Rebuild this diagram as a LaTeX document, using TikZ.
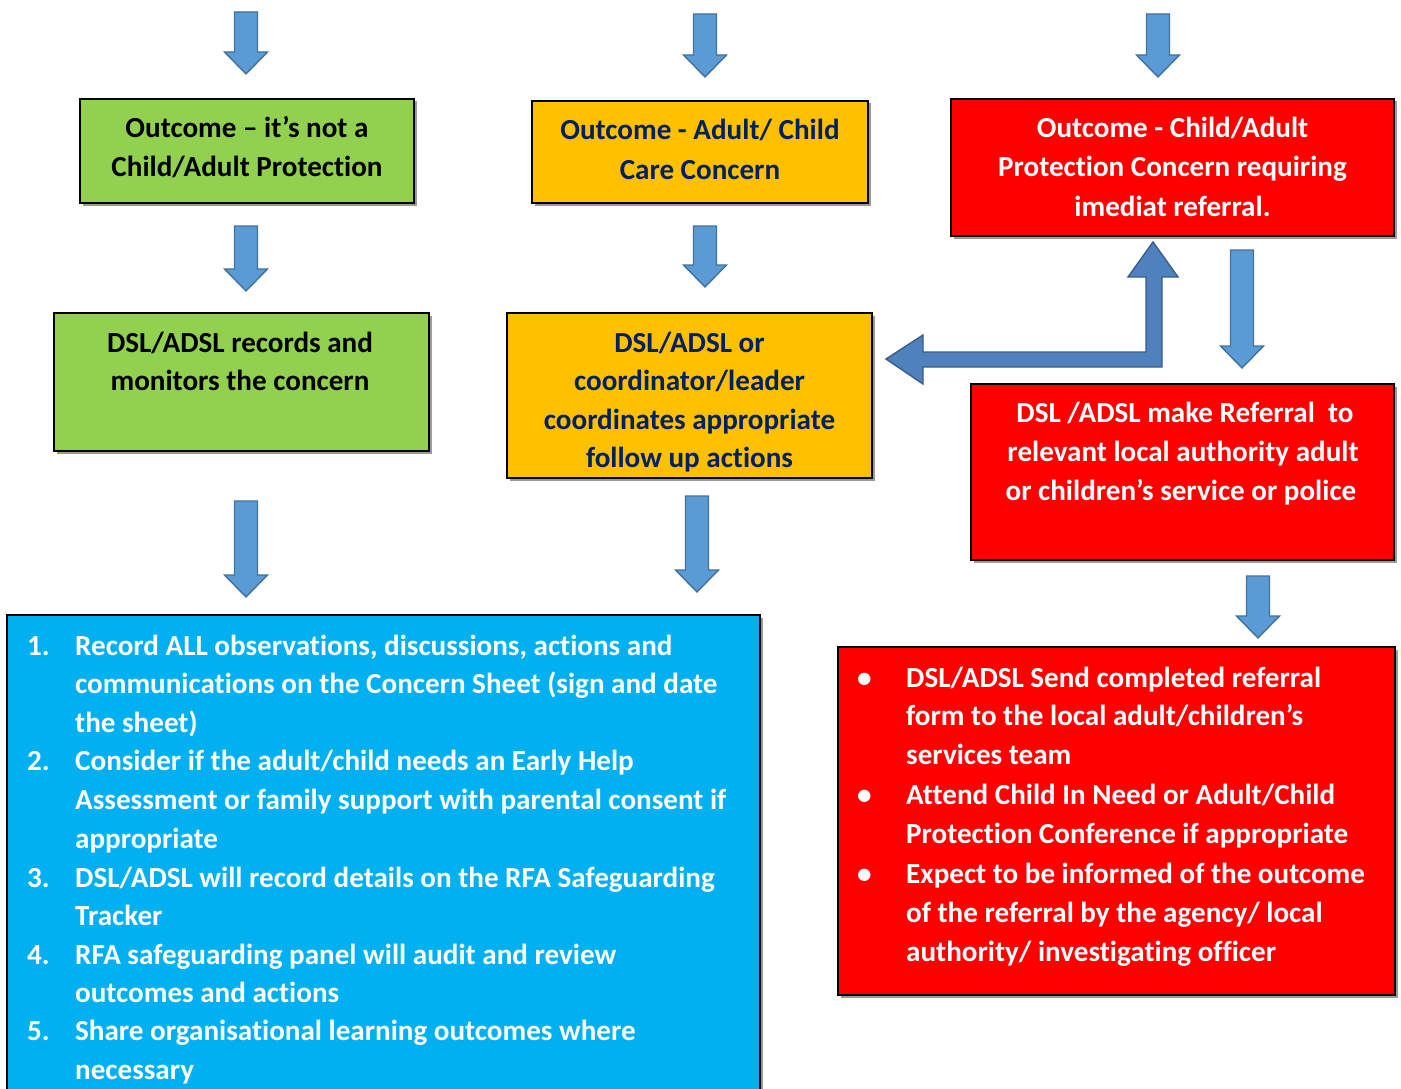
\documentclass[tikz,border=0pt]{standalone}
\usepackage{fontspec}
\setmainfont{Carlito}[Ligatures={NoCommon}]
\begin{document}
\begin{tikzpicture}[x=1pt,y=-1pt,
  box/.style={draw=black,line width=1.6pt,inner sep=0pt},
  tx/.style={inner sep=0pt,anchor=base,font=\fontsize{29.1}{38.5}\selectfont\bfseries},
  txl/.style={inner sep=0pt,anchor=base west,font=\fontsize{29.1}{38.5}\selectfont\bfseries},
  dnarr/.style={fill=arrblue,draw=arrdark,line width=1.4pt,line join=miter},
  bentarr/.style={fill=bentblue,draw=bentdark,line width=1.4pt,line join=miter}]
\definecolor{gfill}{HTML}{92D050}
\definecolor{yfill}{HTML}{FFC000}
\definecolor{rfill}{HTML}{FF0000}
\definecolor{bfill}{HTML}{00B0F0}
\definecolor{navy}{HTML}{002060}
\definecolor{arrblue}{HTML}{5B9BD5}
\definecolor{arrdark}{HTML}{41719C}
\definecolor{bentblue}{HTML}{4F81BD}
\definecolor{bentdark}{HTML}{385D8A}
\definecolor{shad}{HTML}{9A9A9A}
\useasboundingbox (0,0) rectangle (1401,1089);
\fill[white] (0,0) rectangle (1401,1089);

% down arrow macro: cx, ytop, ybot
\newcommand\dnarrowblk[3]{%
  \draw[dnarr] ({#1-11.5},#2) -- ({#1+11.5},#2) -- ({#1+11.5},{#3-22}) -- ({#1+21.5},{#3-22})
    -- (#1,#3) -- ({#1-21.5},{#3-22}) -- ({#1-11.5},{#3-22}) -- cycle;}

% boxes: shadows then boxes
\fill[shad] (82.5,101.5) rectangle (416.5,205.5);
\node[box,fill=gfill,minimum width=334pt,minimum height=104pt] (g1) at (247,151) {};
\fill[shad] (534.5,103.5) rectangle (870.5,205.5);
\node[box,fill=yfill,minimum width=336pt,minimum height=102pt] (y1) at (700,152) {};
\fill[shad] (953.5,101.5) rectangle (1396.5,238.5);
\node[box,fill=rfill,minimum width=443pt,minimum height=137pt] (r1) at (1172.5,167.5) {};
\fill[shad] (56.5,315.5) rectangle (431.5,453.5);
\node[box,fill=gfill,minimum width=375pt,minimum height=138pt] (g2) at (241.5,382) {};
\fill[shad] (509.5,315.5) rectangle (874.5,480.5);
\node[box,fill=yfill,minimum width=365pt,minimum height=165pt] (y2) at (689.5,395.5) {};
\fill[shad] (973.5,386.5) rectangle (1396.5,562.5);
\node[box,fill=rfill,minimum width=423pt,minimum height=176pt] (r2) at (1182.5,472) {};
\fill[shad] (840.5,649.5) rectangle (1397.5,997.5);
\node[box,fill=rfill,minimum width=557pt,minimum height=348pt] (r3) at (1116.5,821) {};
\fill[shad] (9.5,617.5) rectangle (762.5,1100);
\node[box,fill=bfill,minimum width=753pt,minimum height=485pt] (bl) at (383.5,857.5) {};

% arrows
\dnarrowblk{246}{12}{74}
\dnarrowblk{705}{14}{77}
\dnarrowblk{1158}{14}{77}
\dnarrowblk{246}{226}{291}
\dnarrowblk{705}{226}{287}
\dnarrowblk{1242}{250}{368}
\dnarrowblk{246}{501}{597}
\dnarrowblk{697}{496}{592}
\dnarrowblk{1258}{576}{638}
\draw[bentarr] (886,359) -- (923,335) -- (923,352) -- (1146,352) -- (1146,277) -- (1128,277)
  -- (1153,242) -- (1178,277) -- (1162,277) -- (1162,367) -- (923,367) -- (923,384) -- cycle;

% texts
\node[tx,text=black] (g1a) at (247,138) {Outcome – it’s not a};
\node[tx,text=black] (g1b) at (247,177) {Child/Adult Protection};
\node[tx,text=navy] (y1a) at (700,140) {Outcome - Adult/ Child};
\node[tx,text=navy] (y1b) at (700,179) {Care Concern};
\node[tx,text=white] (r1a) at (1172.5,138) {Outcome - Child/Adult};
\node[tx,text=white] (r1b) at (1172.5,177) {Protection Concern requiring};
\node[tx,text=white] (r1c) at (1172.5,216) {imediat referral.};
\node[tx,text=black] (g2a) at (240,352) {DSL/ADSL records and};
\node[tx,text=black] (g2b) at (240,390) {monitors the concern};
\node[tx,text=navy] (y2a) at (689.5,352) {DSL/ADSL or};
\node[tx,text=navy] (y2b) at (689.5,390) {coordinator/leader};
\node[tx,text=navy] (y2c) at (689.5,429) {coordinates appropriate};
\node[tx,text=navy] (y2d) at (689.5,467) {follow up actions};
\node[tx,text=white] (r2a) at (1185,422) {DSL /ADSL make Referral\ \ to};
\node[tx,text=white] (r2b) at (1183,461) {relevant local authority adult};
\node[tx,text=white] (r2c) at (1181,500) {or children’s service or police};

% blue list
\begin{scope}[every node/.style={txl,text=white}]
\node (n1) at (27,655) {1.};
\node (b1a) at (75,655) {Record ALL observations, discussions, actions and};
\node (b1b) at (75,693.5) {communications on the Concern Sheet (sign and date};
\node (b1c) at (75,732) {the sheet)};
\node (n2) at (27,770) {2.};
\node (b2a) at (75,770) {Consider if the adult/child needs an Early Help};
\node (b2b) at (75,809) {Assessment or family support with parental consent if};
\node (b2c) at (75,848) {appropriate};
\node (n3) at (27,887) {3.};
\node (b3a) at (75,887) {DSL/ADSL will record details on the RFA Safeguarding};
\node (b3b) at (75,925) {Tracker};
\node (n4) at (27,964) {4.};
\node (b4a) at (75,964) {RFA safeguarding panel will audit and review};
\node (b4b) at (75,1002) {outcomes and actions};
\node (n5) at (27,1040) {5.};
\node (b5a) at (75,1040) {Share organisational learning outcomes where};
\node (b5b) at (75,1079) {necessary};
% red list
\node (u1) at (857,687) {•};
\node (r3a) at (906,687) {DSL/ADSL Send completed referral};
\node (r3b) at (906,725) {form to the local adult/children’s};
\node (r3c) at (906,764) {services team};
\node (u2) at (857,804) {•};
\node (r3d) at (906,804) {Attend Child In Need or Adult/Child};
\node (r3e) at (906,843) {Protection Conference if appropriate};
\node (u3) at (857,883) {•};
\node (r3f) at (906,883) {Expect to be informed of the outcome};
\node (r3g) at (906,922) {of the referral by the agency/ local};
\node (r3h) at (906,961) {authority/ investigating officer};
\end{scope}
\end{tikzpicture}
\end{document}
